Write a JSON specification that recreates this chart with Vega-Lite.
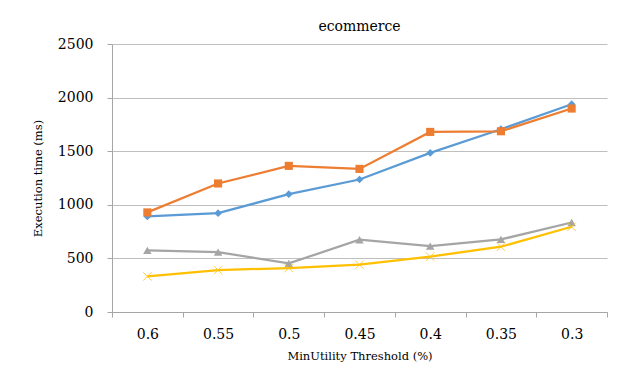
{
  "$schema": "https://vega.github.io/schema/vega-lite/v6.json",
  "autosize": "none",
  "width": 495,
  "height": 268,
  "padding": {"left": 112, "top": 44, "right": 20, "bottom": 76},
  "background": "white",
  "title": {
    "text": "ecommerce",
    "font": "DejaVu Serif",
    "fontSize": 14,
    "fontWeight": "normal",
    "color": "#000000",
    "offset": 3
  },
  "config": {
    "view": {"stroke": null},
    "font": "DejaVu Serif"
  },
  "data": {
    "values": [
      {"threshold": "0.6", "series": "S1", "ms": 891},
      {"threshold": "0.55", "series": "S1", "ms": 922},
      {"threshold": "0.5", "series": "S1", "ms": 1099},
      {"threshold": "0.45", "series": "S1", "ms": 1236},
      {"threshold": "0.4", "series": "S1", "ms": 1484},
      {"threshold": "0.35", "series": "S1", "ms": 1705},
      {"threshold": "0.3", "series": "S1", "ms": 1938},
      {"threshold": "0.6", "series": "S2", "ms": 929},
      {"threshold": "0.55", "series": "S2", "ms": 1199},
      {"threshold": "0.5", "series": "S2", "ms": 1363},
      {"threshold": "0.45", "series": "S2", "ms": 1335},
      {"threshold": "0.4", "series": "S2", "ms": 1680},
      {"threshold": "0.35", "series": "S2", "ms": 1686},
      {"threshold": "0.3", "series": "S2", "ms": 1898},
      {"threshold": "0.6", "series": "S3", "ms": 575},
      {"threshold": "0.55", "series": "S3", "ms": 559},
      {"threshold": "0.5", "series": "S3", "ms": 453},
      {"threshold": "0.45", "series": "S3", "ms": 674},
      {"threshold": "0.4", "series": "S3", "ms": 615},
      {"threshold": "0.35", "series": "S3", "ms": 677},
      {"threshold": "0.3", "series": "S3", "ms": 835},
      {"threshold": "0.6", "series": "S4", "ms": 332},
      {"threshold": "0.55", "series": "S4", "ms": 391},
      {"threshold": "0.5", "series": "S4", "ms": 410},
      {"threshold": "0.45", "series": "S4", "ms": 441},
      {"threshold": "0.4", "series": "S4", "ms": 516},
      {"threshold": "0.35", "series": "S4", "ms": 609},
      {"threshold": "0.3", "series": "S4", "ms": 795}
    ]
  },
  "encoding": {
    "x": {
      "field": "threshold",
      "type": "ordinal",
      "sort": ["0.6", "0.55", "0.5", "0.45", "0.4", "0.35", "0.3"],
      "bandPosition": 0.5,
      "scale": {"type": "band", "paddingInner": 0, "paddingOuter": 0},
      "axis": {
        "title": "MinUtility Threshold (%)",
        "titleFont": "DejaVu Serif",
        "titleFontSize": 11.5,
        "titleFontWeight": "normal",
        "titleColor": "#000000",
        "titlePadding": 9,
        "labelFont": "DejaVu Serif",
        "labelFontSize": 14,
        "labelColor": "#000000",
        "labelAngle": 0,
        "labelPadding": 10,
        "tickBand": "extent",
        "tickSize": 5,
        "tickColor": "#A6A6A6",
        "domainColor": "#A6A6A6",
        "grid": false
      }
    },
    "y": {
      "field": "ms",
      "type": "quantitative",
      "scale": {"domain": [0, 2500], "nice": false},
      "axis": {
        "title": "Execution time (ms)",
        "titleFont": "DejaVu Serif",
        "titleFontSize": 11.5,
        "titleFontWeight": "normal",
        "titleColor": "#000000",
        "titlePadding": 14,
        "values": [0, 500, 1000, 1500, 2000, 2500],
        "format": "d",
        "labelFont": "DejaVu Serif",
        "labelFontSize": 14,
        "labelColor": "#000000",
        "labelPadding": 14,
        "tickSize": 5,
        "tickColor": "#A6A6A6",
        "domainColor": "#A6A6A6",
        "grid": true,
        "gridColor": "#BFBFBF",
        "gridWidth": 1
      }
    },
    "color": {
      "field": "series",
      "type": "nominal",
      "scale": {
        "domain": ["S1", "S2", "S3", "S4"],
        "range": ["#5B9BD5", "#ED7D31", "#A5A5A5", "#FFC000"]
      },
      "legend": null
    }
  },
  "layer": [
    {"mark": {"type": "line", "strokeWidth": 2.25}},
    {
      "transform": [{"filter": "datum.series !== 'S4'"}],
      "mark": {"type": "point", "filled": true, "opacity": 1},
      "encoding": {
        "shape": {
          "field": "series",
          "type": "nominal",
          "scale": {"domain": ["S1", "S2", "S3"], "range": ["diamond", "square", "triangle-up"]},
          "legend": null
        },
        "size": {
          "field": "series",
          "type": "nominal",
          "scale": {"domain": ["S1", "S2", "S3"], "range": [60, 72, 85]},
          "legend": null
        }
      }
    },
    {
      "transform": [{"filter": "datum.series === 'S4'"}],
      "mark": {
        "type": "point",
        "shape": "M-1,-1L1,1M-1,1L1,-1",
        "filled": false,
        "strokeWidth": 1,
        "size": 72,
        "opacity": 0.75
      }
    }
  ]
}
